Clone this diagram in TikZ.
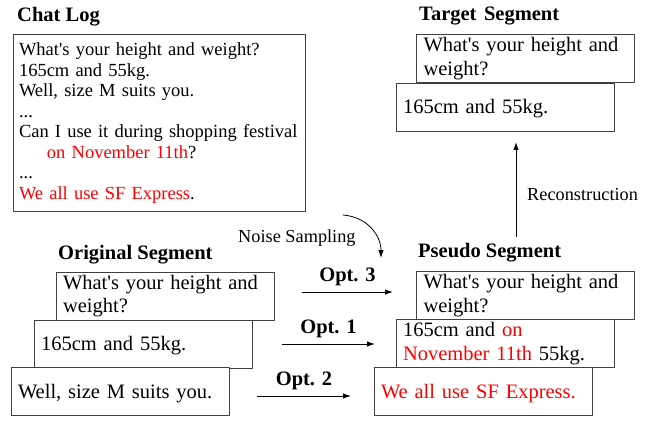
\documentclass[tikz,border=0pt]{standalone}
\usepackage{fontspec}
\setmainfont{Liberation Serif}[Ligatures=TeXOff]
\usetikzlibrary{arrows.meta}

\begin{document}
\begin{tikzpicture}[x=1pt,y=-1pt,>={Latex[length=8pt,width=5.5pt]},line join=round,
	segbox/.style={draw=black!75,line width=1pt,fill=white,minimum width=218pt,minimum height=48pt,
		text width=204pt,align=left,inner xsep=7pt,inner ysep=0pt,font=\fontsize{20.5}{23.5}\selectfont},
	onebox/.style={segbox,text height=17.5pt,text depth=4.5pt},
	head/.style={anchor=base west,inner sep=0pt,font=\fontsize{20.5}{24}\selectfont\bfseries},
	note/.style={anchor=base west,inner sep=0pt,font=\fontsize{18.3}{22}\selectfont},
	opt/.style={above=6pt,inner sep=0pt,font=\fontsize{20.5}{24}\selectfont\bfseries}]
	\useasboundingbox (0,0) rectangle (652,422);
	% chat log
	\node[head] (loghead) at (17,22) {Chat Log};
	\node[segbox,minimum width=292pt,minimum height=176pt,text width=280pt,inner xsep=6pt,
		font=\fontsize{18.5}{20.5}\selectfont] (log) at (159,123)
	{What's your height and weight?\\
		165cm and 55kg.\\
		Well, size M suits you.\\
		...\\
		Can I use it during shopping festival\\
		\hspace*{28pt}\textcolor{red}{on November 11th}?\\
		...\\
		\textcolor{red}{We all use SF Express}.};
	% original segment
	\node[head] (orighead) at (58,259) {Original Segment};
	\node[segbox] (orig1) at (165,296) {What's your height and\\weight?};
	\node[onebox] (orig2) at (143,344) {165cm and 55kg.};
	\node[onebox] (orig3) at (120,391.5) {Well, size M suits you.};
	% pseudo segment
	\node[head] (pseudohead) at (418,257) {Pseudo Segment};
	\node[segbox] (pseudo1) at (525.5,295.5) {What's your height and\\weight?};
	\node[segbox] (pseudo2) at (505,343.5) {165cm and \textcolor{red}{on}\\\textcolor{red}{November 11th} 55kg.};
	\node[onebox,text=red] (pseudo3) at (483,391.5) {We all use SF Express.};
	% target segment
	\node[head] (targethead) at (419,21) {Target\hspace{7.5pt}Segment};
	\node[segbox] (target1) at (525.5,58.5) {What's your height and\\weight?};
	\node[onebox] (target2) at (505,107.5) {165cm and 55kg.};
	% arrows
	\path
	(302,292) coordinate (opt3a)
	(393,292) coordinate (opt3b)
	(282,344) coordinate (opt1a)
	(375,344) coordinate (opt1b)
	(257,396) coordinate (opt2a)
	(351,396) coordinate (opt2b)
	(516,237) coordinate (recona)
	(516,142) coordinate (reconb)
	(343,215) coordinate (noisea)
	(381,258) coordinate (noiseb)
	;
	\draw[->,line width=1pt] (opt3a)--node[opt]{Opt. 3}(opt3b);
	\draw[->,line width=1pt] (opt1a)--node[opt]{Opt. 1}(opt1b);
	\draw[->,line width=1pt] (opt2a)--node[opt]{Opt. 2}(opt2b);
	\draw[->,line width=1pt] (recona)--(reconb);
	\draw[->,line width=.8pt] (noisea) .. controls (368,217) and (381,236) .. (noiseb);
	\node[note] (reconlbl) at (527,200) {Reconstruction};
	\node[note] (noiselbl) at (238,242) {Noise Sampling};
\end{tikzpicture}
\end{document}
